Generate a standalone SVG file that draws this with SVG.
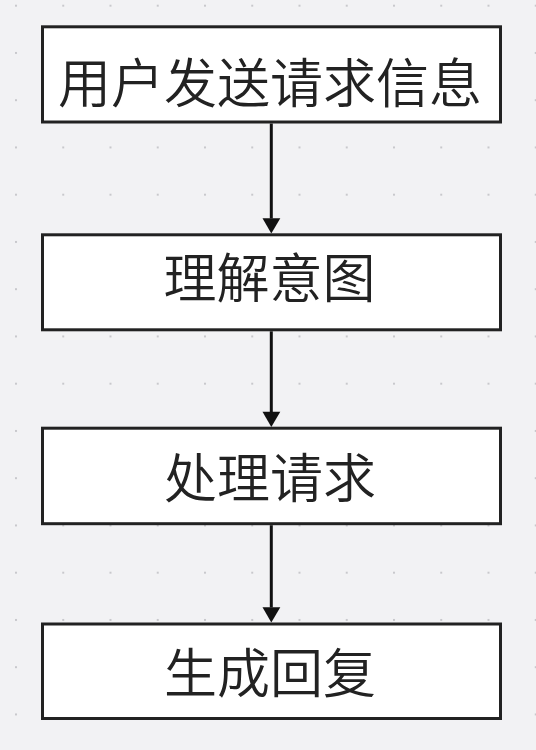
<svg xmlns="http://www.w3.org/2000/svg" width="536" height="750" viewBox="0 0 536 750">
  <style>
    .box { fill: #ffffff; stroke: #222222; stroke-width: 3; }
    .label { font-family: "Noto Sans CJK SC", "Noto Sans", sans-serif; font-size: 53px; font-weight: 350; fill: #222222; text-anchor: middle; }
    .edge { stroke: #111111; stroke-width: 3; fill: none; }
    .head { fill: #111111; }
  </style>
  <defs>
    <pattern id="dots" patternUnits="userSpaceOnUse" x="15" y="4.7" width="47.25" height="47.25">
      <rect x="0" y="0" width="2" height="2" fill="#c8c8cc"/>
    </pattern>
  </defs>
  <rect width="536" height="750" fill="#f2f2f4"/>
  <rect width="536" height="750" fill="url(#dots)"/>
  <g id="connectors">
    <line class="edge" x1="271.3" y1="123.5" x2="271.3" y2="218.5"/>
    <polygon class="head" points="262.5,218.3 280.3,218.3 271.3,233.5"/>
    <line class="edge" x1="271.3" y1="331.3" x2="271.3" y2="412"/>
    <polygon class="head" points="262.5,411.8 280.3,411.8 271.3,427"/>
    <line class="edge" x1="271.3" y1="525.2" x2="271.3" y2="607.5"/>
    <polygon class="head" points="262.5,607.3 280.3,607.3 271.3,622.6"/>
  </g>
  <g id="node1">
    <rect class="box" x="42.5" y="26.8" width="458" height="95.2"/>
    <text class="label" x="270" y="103">用户发送请求信息</text>
  </g>
  <g id="node2">
    <rect class="box" x="42.5" y="234.8" width="458" height="95"/>
    <text class="label" x="269.5" y="298">理解意图</text>
  </g>
  <g id="node3">
    <rect class="box" x="42.5" y="428.2" width="458" height="95.5"/>
    <text class="label" x="270" y="497.5">处理请求</text>
  </g>
  <g id="node4">
    <rect class="box" x="42.5" y="624" width="458" height="94.5"/>
    <text class="label" x="270" y="693">生成回复</text>
  </g>
</svg>
